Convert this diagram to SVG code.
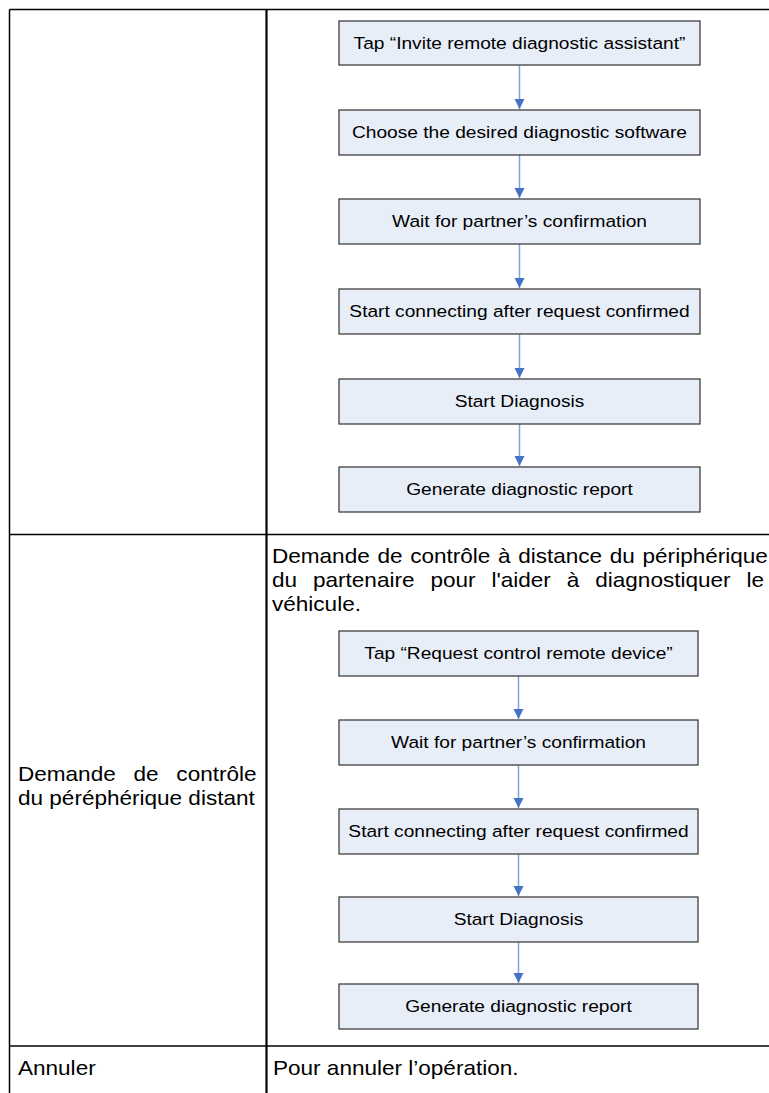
<svg xmlns="http://www.w3.org/2000/svg" width="769" height="1093" viewBox="0 0 769 1093">
  <style>
    .grid { stroke: #000; stroke-width: 1.5; fill: none; }
    .divider { stroke: #000; stroke-width: 2.2; }
    .box { fill: #E8EEF8; stroke: #3F3F3F; stroke-width: 1.3; }
    .label { font-family: "Liberation Sans", Arial, sans-serif; font-size: 17.4px; fill: #000; text-anchor: middle; }
    .body { font-family: "Liberation Sans", Arial, sans-serif; font-size: 20.5px; fill: #000; }
    .edge { stroke: #7FA3DA; stroke-width: 1.5; fill: none; marker-end: url(#head); }
  </style>
  <defs>
    <marker id="head" viewBox="0 0 10 10" refX="10" refY="5" markerUnits="userSpaceOnUse" markerWidth="10" markerHeight="11" orient="auto">
      <path d="M0,0 L10,5 L0,10 Z" fill="#4472C4"/>
    </marker>
  </defs>

  <rect width="769" height="1093" fill="#fff"/>

  <!-- table grid -->
  <g id="table">
    <line class="grid" x1="9.5" y1="9.5" x2="769" y2="9.5"/>
    <line class="grid" x1="9.5" y1="9.5" x2="9.5" y2="1093"/>
    <line class="grid" x1="9.5" y1="534.5" x2="769" y2="534.5"/>
    <line class="grid" x1="9.5" y1="1046" x2="769" y2="1046"/>
    <line class="divider" x1="266.5" y1="9.5" x2="266.5" y2="1093"/>
  </g>

  <!-- connectors -->
  <g id="connectors">
    <line class="edge" x1="519.5" y1="65" x2="519.5" y2="109"/>
    <line class="edge" x1="519.5" y1="155" x2="519.5" y2="198"/>
    <line class="edge" x1="519.5" y1="244" x2="519.5" y2="288"/>
    <line class="edge" x1="519.5" y1="334" x2="519.5" y2="378"/>
    <line class="edge" x1="519.5" y1="424" x2="519.5" y2="466"/>
    <line class="edge" x1="518.5" y1="676" x2="518.5" y2="719"/>
    <line class="edge" x1="518.5" y1="765" x2="518.5" y2="808"/>
    <line class="edge" x1="518.5" y1="854" x2="518.5" y2="896"/>
    <line class="edge" x1="518.5" y1="942" x2="518.5" y2="983"/>
  </g>

  <!-- first flow -->
  <g id="a1"><rect class="box" x="339" y="21" width="361" height="44"/><text class="label" transform="translate(519.5,49) scale(1.1,1)">Tap “Invite remote diagnostic assistant”</text></g>
  <g id="a2"><rect class="box" x="339" y="110" width="361" height="45"/><text class="label" transform="translate(519.5,138) scale(1.1,1)">Choose the desired diagnostic software</text></g>
  <g id="a3"><rect class="box" x="339" y="199" width="361" height="45"/><text class="label" transform="translate(519.5,227) scale(1.1,1)">Wait for partner’s confirmation</text></g>
  <g id="a4"><rect class="box" x="339" y="289" width="361" height="45"/><text class="label" transform="translate(519.5,317) scale(1.1,1)">Start connecting after request confirmed</text></g>
  <g id="a5"><rect class="box" x="339" y="379" width="361" height="45"/><text class="label" transform="translate(519.5,407) scale(1.1,1)">Start Diagnosis</text></g>
  <g id="a6"><rect class="box" x="339" y="467" width="361" height="45"/><text class="label" transform="translate(519.5,495) scale(1.1,1)">Generate diagnostic report</text></g>

  <!-- second row text (justified by word spacing) -->
  <g id="desc">
    <text class="body" transform="translate(272,563) scale(1.1,1)" word-spacing="1.3">Demande de contrôle à distance du périphérique</text>
    <text class="body" transform="translate(272,587) scale(1.1,1)" word-spacing="8.8">du partenaire pour l'aider à diagnostiquer le</text>
    <text class="body" transform="translate(272,611) scale(1.1,1)">véhicule.</text>
  </g>
  <g id="rowlabel">
    <text class="body" transform="translate(18,781) scale(1.1,1)" word-spacing="10.5">Demande de contrôle</text>
    <text class="body" transform="translate(18,805) scale(1.1,1)">du péréphérique distant</text>
  </g>

  <!-- second flow -->
  <g id="b1"><rect class="box" x="339" y="631" width="359" height="45"/><text class="label" transform="translate(518.5,659) scale(1.1,1)">Tap “Request control remote device”</text></g>
  <g id="b2"><rect class="box" x="339" y="720" width="359" height="45"/><text class="label" transform="translate(518.5,748) scale(1.1,1)">Wait for partner’s confirmation</text></g>
  <g id="b3"><rect class="box" x="339" y="809" width="359" height="45"/><text class="label" transform="translate(518.5,837) scale(1.1,1)">Start connecting after request confirmed</text></g>
  <g id="b4"><rect class="box" x="339" y="897" width="359" height="45"/><text class="label" transform="translate(518.5,925) scale(1.1,1)">Start Diagnosis</text></g>
  <g id="b5"><rect class="box" x="339" y="984" width="359" height="45"/><text class="label" transform="translate(518.5,1012) scale(1.1,1)">Generate diagnostic report</text></g>

  <!-- last row -->
  <g id="cancel">
    <text class="body" transform="translate(18,1075) scale(1.1,1)">Annuler</text>
    <text class="body" transform="translate(273,1075) scale(1.1,1)">Pour annuler l’opération.</text>
  </g>
</svg>
